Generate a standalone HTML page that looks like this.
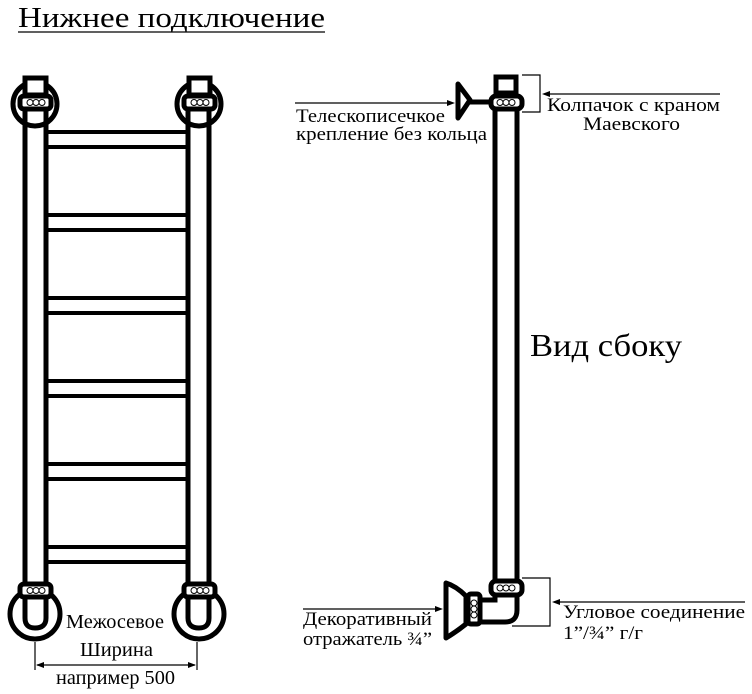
<!DOCTYPE html>
<html><head><meta charset="utf-8"><style>
body{margin:0;background:#fff;width:752px;height:694px;overflow:hidden}
svg{display:block}
text{font-family:"Liberation Serif",serif;fill:#000}
</style></head><body>
<svg width="752" height="694" viewBox="0 0 752 694">
<g fill="none" stroke="#000" stroke-width="5">
<line x1="25" y1="110" x2="25" y2="582"/><line x1="46" y1="110" x2="46" y2="582"/>
<line x1="188" y1="110" x2="188" y2="582"/><line x1="209" y1="110" x2="209" y2="582"/>
<g stroke-width="4">
<line x1="48" y1="132" x2="186" y2="132"/><line x1="48" y1="147" x2="186" y2="147"/>
<line x1="48" y1="215" x2="186" y2="215"/><line x1="48" y1="230" x2="186" y2="230"/>
<line x1="48" y1="298" x2="186" y2="298"/><line x1="48" y1="313" x2="186" y2="313"/>
<line x1="48" y1="381" x2="186" y2="381"/><line x1="48" y1="396" x2="186" y2="396"/>
<line x1="48" y1="464" x2="186" y2="464"/><line x1="48" y1="479" x2="186" y2="479"/>
<line x1="48" y1="547" x2="186" y2="547"/><line x1="48" y1="562" x2="186" y2="562"/>
</g>
<circle cx="35" cy="104" r="22"/><circle cx="199" cy="104" r="22"/>
<rect x="25" y="78" width="21" height="17" fill="#fff"/><rect x="189" y="78" width="21" height="17" fill="#fff"/>
<rect x="20" y="96" width="31" height="13" rx="4" fill="#fff"/><rect x="184" y="96" width="31" height="13" rx="4" fill="#fff"/>
<circle cx="35" cy="614" r="25"/><circle cx="199" cy="614" r="25"/>
<path d="M25 598 V618 Q25 628 35 628 Q46 628 46 618 V598"/>
<path d="M188 598 V618 Q188 628 199 628 Q209 628 209 618 V598"/>
<rect x="20" y="584" width="31" height="13" rx="4" fill="#fff"/><rect x="184" y="584" width="31" height="13" rx="4" fill="#fff"/>
<line x1="495" y1="110" x2="495" y2="580"/><line x1="517" y1="110" x2="517" y2="580"/>
<rect x="496" y="77" width="20" height="16"/>
<rect x="491" y="96" width="31" height="13" rx="5" fill="#fff"/>
<line x1="468" y1="102" x2="491" y2="102"/>
<path d="M458 84 L470 100 L458 118 Z" stroke-linejoin="round"/>
<rect x="491" y="581" width="31" height="14" rx="5" fill="#fff"/>
<path d="M517 596 V610 Q517 622 505 622 H480"/>
<path d="M495 596 V600 H480"/>
<rect x="468" y="594" width="12" height="30" rx="3" fill="#fff"/>
<path d="M446 583 Q456 586 466 596 V624 Q456 632 446 638 Z" stroke-linejoin="round"/>
</g>
<g fill="none" stroke="#000" stroke-width="1">
<circle cx="30" cy="102.5" r="3"/><circle cx="36" cy="102.5" r="3"/><circle cx="42" cy="102.5" r="3"/>
<circle cx="194" cy="102.5" r="3"/><circle cx="200" cy="102.5" r="3"/><circle cx="206" cy="102.5" r="3"/>
<circle cx="30" cy="590.5" r="3"/><circle cx="36" cy="590.5" r="3"/><circle cx="42" cy="590.5" r="3"/>
<circle cx="194" cy="590.5" r="3"/><circle cx="200" cy="590.5" r="3"/><circle cx="206" cy="590.5" r="3"/>
<circle cx="500" cy="102.5" r="3"/><circle cx="506" cy="102.5" r="3"/><circle cx="512" cy="102.5" r="3"/>
<circle cx="500" cy="588" r="3"/><circle cx="506" cy="588" r="3"/><circle cx="512" cy="588" r="3"/>
<circle cx="474" cy="603" r="3"/><circle cx="474" cy="609" r="3"/><circle cx="474" cy="615" r="3"/>
</g>
<g stroke="#000" stroke-width="1.2" fill="none">
<path d="M522 75 H540 V112 H522"/>
<line x1="545" y1="94" x2="720" y2="94"/>
<line x1="295" y1="103" x2="452" y2="103"/>
<path d="M522 578 H550 V626 H512"/>
<line x1="557" y1="602" x2="745" y2="602"/>
<line x1="303" y1="609" x2="440" y2="609"/>
<line x1="35" y1="642" x2="35" y2="670"/><line x1="197" y1="642" x2="197" y2="670"/>
<line x1="37" y1="665" x2="195" y2="665"/>
<line x1="18" y1="32" x2="325" y2="32"/>
</g>
<g fill="#000">
<path d="M542 94 L550 91 L550 97 Z"/>
<path d="M455 103 L447 100 L447 106 Z"/>
<path d="M552 602 L560 599 L560 605 Z"/>
<path d="M443 609 L435 606 L435 612 Z"/>
<path d="M36 665 L44 662 L44 668 Z"/><path d="M196 665 L188 662 L188 668 Z"/>
</g>
<text x="18" y="27" font-size="29" textLength="307" lengthAdjust="spacingAndGlyphs">Нижнее подключение</text>
<text x="530" y="356" font-size="32" textLength="152" lengthAdjust="spacingAndGlyphs">Вид сбоку</text>
<text x="296" y="122" font-size="19" textLength="149" lengthAdjust="spacingAndGlyphs">Телескописечкое</text>
<text x="296" y="140" font-size="19" textLength="191" lengthAdjust="spacingAndGlyphs">крепление без кольца</text>
<text x="547" y="111" font-size="19" textLength="173" lengthAdjust="spacingAndGlyphs">Колпачок с краном</text>
<text x="583" y="130" font-size="19" textLength="97" lengthAdjust="spacingAndGlyphs">Маевского</text>
<text x="303" y="625" font-size="19" textLength="129" lengthAdjust="spacingAndGlyphs">Декоративный</text>
<text x="303" y="645" font-size="19" textLength="129" lengthAdjust="spacingAndGlyphs">отражатель ¾”</text>
<text x="563" y="618" font-size="19" textLength="182" lengthAdjust="spacingAndGlyphs">Угловое соединение</text>
<text x="563" y="639" font-size="19" textLength="80" lengthAdjust="spacingAndGlyphs">1”/¾” г/г</text>
<text x="66" y="628" font-size="20" textLength="98" lengthAdjust="spacingAndGlyphs">Межосевое</text>
<text x="80" y="656" font-size="20" textLength="73" lengthAdjust="spacingAndGlyphs">Ширина</text>
<text x="56" y="684" font-size="20" textLength="119" lengthAdjust="spacingAndGlyphs">например 500</text>
</svg>
</body></html>
